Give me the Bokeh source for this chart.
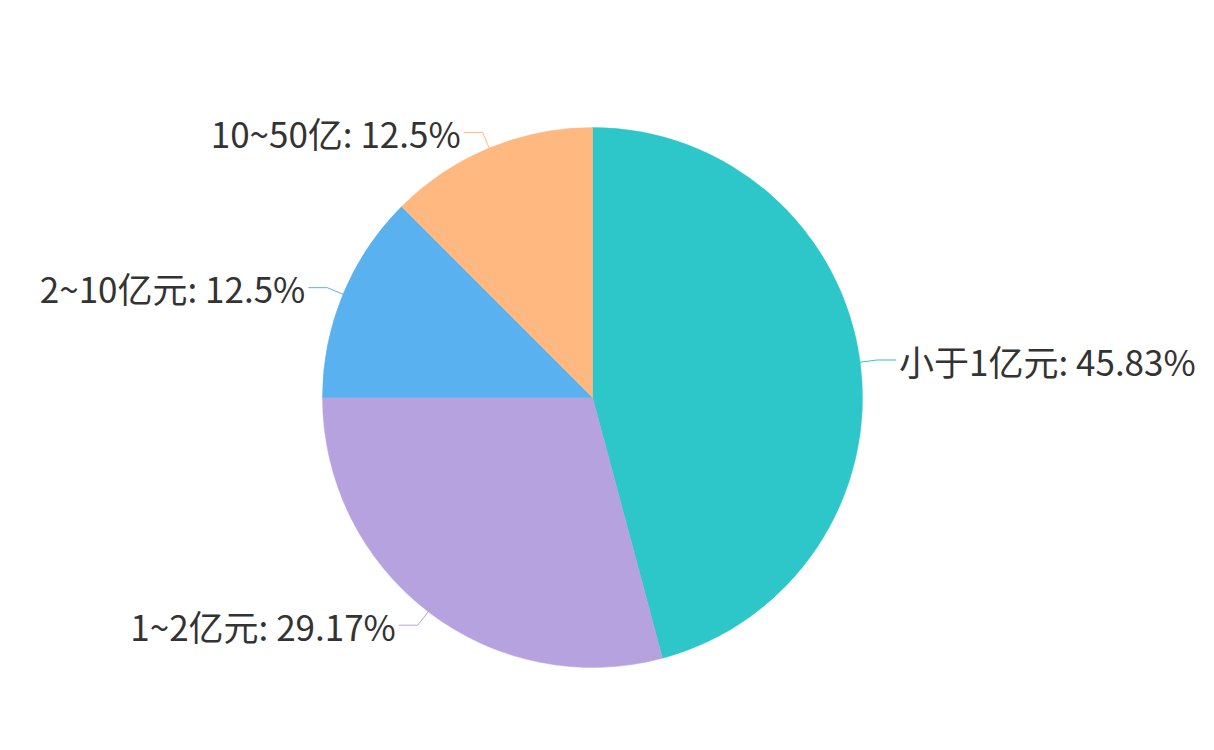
import numpy as np
from bokeh.plotting import figure
from bokeh.models import Range1d, ColumnDataSource
from bokeh.core.properties import value
from bokeh.embed import file_html
from bokeh.resources import INLINE

categories = ["小于1亿元", "1~2亿元", "2~10亿元", "10~50亿"]
shares = [45.83, 29.17, 12.5, 12.5]
colors = ["#2ec7c9", "#b6a2de", "#5ab1ef", "#ffb980"]

W, H = 1198, 734
CX, CY, R = 592, -397, 270  # pixel-like data coords (y down negative)
L1, L2, GAP = 17, 19, 3

p = figure(width=W, height=H, output_backend="svg", toolbar_location=None,
           x_range=Range1d(0, W), y_range=Range1d(-H, 0),
           min_border=0)
p.axis.visible = False
p.grid.visible = False
p.outline_line_color = None
p.background_fill_color = "white"
p.border_fill_color = "white"

vals = np.array(shares, dtype=float)
frac = vals / vals.sum()
cum_end = np.cumsum(frac) * 2 * np.pi       # clockwise from top
cum_start = cum_end - frac * 2 * np.pi
start_angle = np.pi / 2 - cum_end
end_angle = np.pi / 2 - cum_start

src = ColumnDataSource(dict(start=start_angle, end=end_angle, color=colors))
p.wedge(x=CX, y=CY, radius=R, start_angle="start", end_angle="end",
        fill_color="color", line_color="color", line_width=0.5, source=src)

mid = (cum_start + cum_end) / 2
sx, sy = np.sin(mid), np.cos(mid)
ex, ey = CX + R * sx, CY + R * sy
bx, by = CX + (R + L1) * sx, CY + (R + L1) * sy
side = np.where(sx >= 0, 1, -1)
tx = bx + side * L2

xs = [[ex[i], bx[i], tx[i]] for i in range(len(vals))]
ys = [[ey[i], by[i], by[i]] for i in range(len(vals))]
p.multi_line(xs=xs, ys=ys, line_color=colors, line_width=1)

labels = [f"{c}: {v:g}%" for c, v in zip(categories, shares)]
for i, lab in enumerate(labels):
    p.text(x=[tx[i] + side[i] * GAP], y=[by[i]], text=[lab],
           text_font=value("Noto Sans CJK SC"), text_font_size="35px",
           text_color="#333333", text_baseline="middle",
           text_align="left" if side[i] > 0 else "right")

open("out.html", "w").write(file_html(p, INLINE))
